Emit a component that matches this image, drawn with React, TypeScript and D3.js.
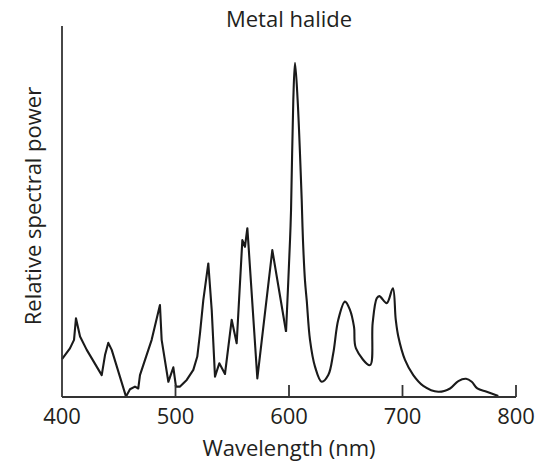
import React from "react";
import * as d3 from "d3";

const wavelengths = [400, 407, 410.6, 412.3, 415.9, 421.8, 435, 437.9, 440.8, 443.8, 456.4, 459.9, 464.3, 467.2, 468.7, 479, 486.3, 487.8, 493.7, 498.1, 500.4, 504, 509.9, 515.7, 519.2, 521.6, 524.5, 528.9, 531.9, 534.8, 538.6, 543.6, 549.5, 553.9, 558.9, 561.2, 563.3, 564.8, 572.1, 585.3, 597.4, 600.9, 601.8, 603.8, 605.3, 607.6, 611.2, 612.3, 614.1, 615.6, 618.5, 622.9, 628.8, 634.6, 639, 643.4, 649.3, 653.7, 657.3, 659, 671.4, 673.7, 677.3, 679.6, 686.1, 691.5, 694, 696.3, 702.2, 709.5, 718.3, 731.5, 741.9, 749.2, 756, 761, 765.9, 774.2, 784.4];
const power = [10.2, 13.1, 15.4, 21.2, 16.3, 12.7, 5.9, 11.3, 14.6, 12.7, 0.1, 2.1, 2.8, 2.3, 5.9, 15.4, 24.8, 15.4, 4.1, 8.0, 2.8, 2.8, 4.6, 7.3, 10.9, 17.2, 26.1, 36.0, 23.5, 5.5, 9.1, 6.2, 20.8, 14.5, 42.3, 40.5, 45.5, 38.7, 5.0, 39.6, 17.6, 42.3, 50.4, 80.1, 90.1, 80.1, 53.1, 42.3, 31.3, 26.1, 15.4, 8.2, 4.1, 5.9, 11.8, 20.8, 25.7, 23.5, 18.9, 13.1, 8.6, 19.9, 26.6, 27.2, 25.3, 29.3, 21.0, 16.3, 10.0, 5.9, 3.0, 1.4, 2.3, 4.3, 4.9, 4.1, 2.3, 1.4, 0.3];
const xTicks = [400, 500, 600, 700, 800];
const title = "Metal halide";
const xLabel = "Wavelength (nm)";
const yLabel = "Relative spectral power";
const sharpUntil = 597.4;

export default function App() {
  const W = 538, H = 467;
  const x = d3.scaleLinear().domain([400, 800]).range([62, 516]);
  const y = d3.scaleLinear().domain([0, 100]).range([397, 26]);
  const data = wavelengths.map((w, i) => [w, power[i]] as [number, number]);
  const sharp = data.filter(d => d[0] <= sharpUntil);
  const smooth = data.filter(d => d[0] >= sharpUntil);
  const lineSharp = d3.line<[number, number]>().x(d => x(d[0])).y(d => y(d[1])).curve(d3.curveLinear);
  const lineSmooth = d3.line<[number, number]>().x(d => x(d[0])).y(d => y(d[1])).curve(d3.curveCatmullRom.alpha(0.5));
  const font = "'Open Sans', sans-serif";
  const ink = "#231f20";
  return (
    <svg width={W} height={H} style={{ position: "absolute", left: 0, top: 0, background: "#fff" }}>
      <text x={289} y={27} textAnchor="middle" fontFamily={font} fontSize={22} fill={ink}>{title}</text>
      <path d={lineSharp(sharp) || ""} fill="none" stroke="#1a1a1a" strokeWidth={2.1} strokeLinejoin="round" />
      <path d={lineSmooth(smooth) || ""} fill="none" stroke="#1a1a1a" strokeWidth={2.1} strokeLinejoin="round" />
      <line x1={x(400)} x2={x(400)} y1={y(100)} y2={y(0)} stroke="#333" strokeWidth={1.8} />
      <line x1={x(400)} x2={x(800)} y1={y(0)} y2={y(0)} stroke="#333" strokeWidth={1.8} />
      {xTicks.map(t => (
        <g key={t}>
          {t !== 400 && <line x1={x(t)} x2={x(t)} y1={y(0)} y2={y(0) - 12} stroke="#333" strokeWidth={1.8} />}
          <text x={x(t)} y={424} textAnchor="middle" fontFamily={font} fontSize={22} fill={ink}>{t}</text>
        </g>
      ))}
      <text x={289} y={456} textAnchor="middle" fontFamily={font} fontSize={22} fill={ink}>{xLabel}</text>
      <text transform={`translate(41,206) rotate(-90)`} textAnchor="middle" fontFamily={font} fontSize={22} fill={ink}>{yLabel}</text>
    </svg>
  );
}
